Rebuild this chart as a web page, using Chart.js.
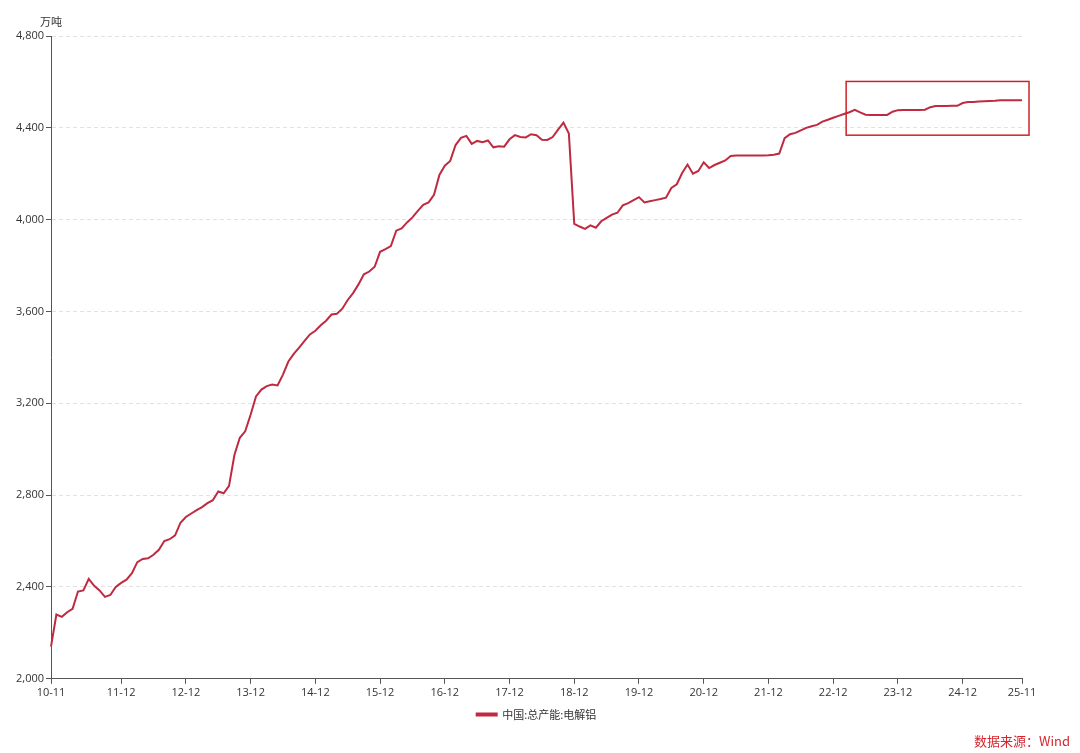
<!DOCTYPE html>
<html>
<head>
<meta charset="utf-8">
<script src="https://cdn.jsdelivr.net/npm/chart.js@4/dist/chart.umd.min.js"></script>
<style>
    body { margin: 0; background: #fff; }
    #wrap { position: relative; width: 1080px; height: 753px; }
    #source {
        position: absolute; right: 10px; top: 731px;
        font-family: "Noto Sans CJK SC", "Noto Sans", sans-serif;
        font-size: 13px; color: #d8262f;
    }
</style>
</head>
<body>
<div id="wrap">
    <canvas id="capacidade" width="1080" height="753"></canvas>
    <div id="source">数据来源：Wind</div>
</div>
<script>
// meses de 2010-11 até 2025-11
const startYear = 2010, startMonth = 11, monthCount = 181;
const meses = [];
for (let i = 0; i < monthCount; i++) {
    const m = (startMonth - 1 + i) % 12 + 1;
    const y = startYear + Math.floor((startMonth - 1 + i) / 12);
    meses.push(String(y % 100).padStart(2, "0") + "-" + String(m).padStart(2, "0"));
}

// 中国:总产能:电解铝 (万吨)
const capacidade = [
    2140, 2280, 2270, 2290, 2305, 2380, 2385, 2435, 2405, 2385, 2357, 2365, 2400, 2418, 2432, 2460,
    2508, 2522, 2525, 2540, 2562, 2600, 2608, 2625, 2680, 2705, 2720, 2735, 2748, 2765, 2778, 2816,
    2808, 2840, 2975, 3050, 3078, 3150, 3230, 3260, 3275, 3282, 3278, 3325, 3382, 3415, 3443, 3472,
    3500, 3516, 3540, 3560, 3587, 3590, 3612, 3650, 3680, 3718, 3762, 3774, 3795, 3860, 3872, 3885,
    3952, 3962, 3988, 4010, 4038, 4065, 4075, 4108, 4195, 4235, 4256, 4325, 4356, 4365, 4330, 4343,
    4337, 4345, 4315, 4320, 4318, 4350, 4368, 4360, 4358, 4372, 4368, 4348, 4347, 4360, 4392, 4423,
    4375, 3982, 3970, 3960, 3975, 3965, 3993, 4008, 4022, 4030, 4062, 4072, 4085, 4098, 4075, 4080,
    4085, 4090, 4096, 4138, 4154, 4203, 4240, 4200, 4212, 4250, 4225, 4238, 4248, 4258, 4277, 4279,
    4280, 4280, 4280, 4280, 4280, 4281, 4283, 4288, 4355, 4372, 4378, 4389, 4400, 4407, 4413, 4427,
    4435, 4444, 4452, 4460, 4468, 4478, 4467, 4457, 4456, 4456, 4456, 4456, 4470, 4477, 4478, 4478,
    4478, 4478, 4479, 4490, 4495, 4495, 4495, 4496, 4496, 4508, 4512, 4513, 4515, 4516, 4517, 4518,
    4520, 4520, 4520, 4520, 4520
];

// rótulos visíveis no eixo X
const rotulosX = ["10-11", "11-12", "12-12", "13-12", "14-12", "15-12", "16-12", "17-12",
    "18-12", "19-12", "20-12", "21-12", "22-12", "23-12", "24-12", "25-11"];

const yMin = 2000, yMax = 4800, yStep = 400;

// retângulo de destaque (índice do mês / valor)
const destaqueX = [147.4, 181.3];
const destaqueY = [4368, 4602];

const corLinha = "#bf2a40";

document.addEventListener("DOMContentLoaded", () => {
    const extras = {
        id: "extras",
        afterLayout(chart) {
            // legenda centrada na área do gráfico
            const lg = chart.legend;
            const dx = (chart.chartArea.left + chart.chartArea.right) / 2 - (lg.left + lg.right) / 2;
            lg.left += dx;
            lg.right += dx;
        },
        afterDraw(chart) {
            const c = chart.ctx;
            const xs = chart.scales.x, ys = chart.scales.y;
            // unidade
            c.save();
            c.font = '11px "Noto Sans CJK SC", sans-serif';
            c.fillStyle = "#333";
            c.textAlign = "center";
            c.textBaseline = "bottom";
            c.fillText("万吨", ys.right, chart.chartArea.top - 9);
            // caixa vermelha
            const x1 = xs.getPixelForValue(destaqueX[0]);
            const x2 = xs.getPixelForValue(destaqueX[1]);
            const y1 = ys.getPixelForValue(destaqueY[1]);
            const y2 = ys.getPixelForValue(destaqueY[0]);
            c.strokeStyle = "#cc2229";
            c.lineWidth = 1.5;
            c.strokeRect(x1, y1, x2 - x1, y2 - y1);
            c.restore();
        }
    };

    const ctx = document.getElementById("capacidade").getContext("2d");
    new Chart(ctx, {
        type: "line",
        data: {
            labels: meses,
            datasets: [{
                label: "中国:总产能:电解铝",
                data: capacidade,
                borderColor: corLinha,
                backgroundColor: corLinha,
                borderWidth: 2,
                pointRadius: 0,
                tension: 0
            }]
        },
        options: {
            responsive: false,
            animation: false,
            layout: { padding: { left: 14, right: 58, top: 36, bottom: 23 } },
            plugins: {
                legend: {
                    position: "bottom",
                    labels: {
                        boxWidth: 20,
                        boxHeight: 2,
                        color: "#333",
                        padding: 8,
                        font: { family: '"Noto Sans CJK SC", sans-serif', size: 11 }
                    }
                },
                tooltip: { enabled: false }
            },
            scales: {
                x: {
                    border: { color: "#555", width: 1 },
                    grid: { drawOnChartArea: false, tickLength: 5, color: "#555" },
                    ticks: {
                        autoSkip: false,
                        maxRotation: 0,
                        color: "#333",
                        padding: 2,
                        font: { family: '"Open Sans", sans-serif', size: 11 },
                        callback: function (value) {
                            const lab = this.getLabelForValue(value);
                            return rotulosX.includes(lab) ? lab : null;
                        }
                    }
                },
                y: {
                    min: yMin,
                    max: yMax,
                    grid: {
                        color: "#e2e2e2",
                        tickColor: "#555",
                        tickLength: 5
                    },
                    border: { color: "#555", width: 1, dash: [4, 3] },
                    ticks: {
                        stepSize: yStep,
                        color: "#333",
                        padding: 2,
                        font: { family: '"Open Sans", sans-serif', size: 11 },
                        callback: (v) => v.toLocaleString("en-US")
                    }
                }
            }
        },
        plugins: [extras]
    });
});
</script>
</body>
</html>
